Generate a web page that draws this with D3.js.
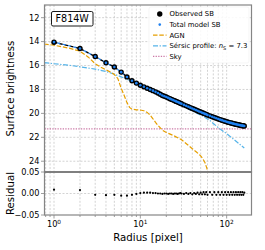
<!DOCTYPE html>
<html><head><meta charset="utf-8">
<script src="https://cdn.jsdelivr.net/npm/d3@7"></script>
<style>body{margin:0;background:#fff}svg{display:block;font-family:"DejaVu Sans",sans-serif}</style>
</head><body><svg id="c" width="265" height="250"></svg>
<script>
// ---- data ----
const radius = [1,2,3,4,5,6,7,8,9,10,11,12,13,14,15,16,17,18,19,20,21,22,23,24,25,26,27,28,29,30,
  32,34,36,38,40,42,44,46,48,50,52,54,56,58,60,
  64,68,72,76,80,84,88,92,96,100,104,108,112,116,120,124,128,132,136,140,144,148,152,156,160];
const observedSB = [14.05,14.58,15.25,15.77,16.12,16.55,16.95,17.27,17.47,17.65,17.78,17.9,18.0,18.1,18.2,18.3,18.4,18.5,18.57,18.63,18.7,18.77,18.83,18.89,18.95,19.0,19.05,19.1,19.15,19.2,
  19.29,19.37,19.45,19.52,19.59,19.66,19.72,19.78,19.84,19.89,19.94,19.99,20.04,20.08,20.13,
  20.21,20.28,20.35,20.41,20.47,20.52,20.57,20.62,20.66,20.7,20.74,20.77,20.8,20.83,20.86,20.89,20.91,20.93,20.95,20.97,20.99,21.01,21.03,21.04,21.06];
const residual = [0.009,0.008,-0.003,-0.004,-0.003,-0.005,-0.005,-0.003,-0.001,0.001,0.002,0.002,0.002,0.001,0.001,0.0,0.0,-0.001,0.0,0.0,-0.001,0.0,0.0,-0.001,0.0,0.0,-0.001,0.0,0.001,0.0,
  -0.001,0.001,-0.001,0.001,-0.002,0.001,-0.001,0.002,-0.002,0.002,-0.002,0.003,-0.002,0.003,-0.003,
  0.003,-0.003,0.003,-0.003,0.003,-0.003,0.003,-0.003,0.003,-0.003,0.003,-0.003,0.003,-0.003,0.003,-0.003,0.003,-0.003,0.003,-0.003,0.003,-0.003,0.003,-0.003,0.002];
const agnR  = [0.77,1,1.5,2,2.5,3,3.5,4,4.5,5,5.5,6,6.5,7,7.5,8,9,10,11,12,13,14,15,16,18,20,25,30,35,40,45,50,53,56,59,62];
const agnSB = [14.2,14.3,14.55,14.8,15.3,15.85,16.15,16.35,16.55,16.75,17.1,17.9,18.5,19.1,19.5,19.65,19.7,19.72,19.78,19.92,20.15,20.45,20.75,21.0,21.4,21.6,21.9,22.2,22.6,22.95,23.25,23.55,23.8,24.1,24.6,25.1];
const sersicR  = [0.77,1,1.5,2,3,4,5,6,7,8,10,13,16,20,25,30,38,45,54,64,73,84,100,120,140,160];
const sersicSB = [15.75,15.85,15.98,16.1,16.3,16.5,16.72,16.95,17.15,17.33,17.68,18.05,18.35,18.72,19.05,19.35,19.72,19.98,20.25,20.6,20.95,21.3,21.7,22.15,22.55,22.9];
const skySB = 21.3;
const sbTicks = [12,14,16,18,20,22,24];
const resTicks = [0.05,0.0,-0.05];
const xMajor = [1,10,100];
const legendLabels = ["Observed SB","Total model SB","AGN","Sérsic profile: ","Sky"];
const filterLabel = "F814W";

// ---- layout ----
const svg = d3.select("#c");
const L = 44.5, R = 251.5, T1 = 5, B1 = 172, T2 = 172, B2 = 215;
const x = d3.scaleLog().domain([0.776, 194]).range([L, R]);
const y = d3.scaleLinear().domain([10.94, 24.9]).range([T1, B1]);
const yr = d3.scaleLinear().domain([-0.05, 0.05]).range([B2, T2]);
const grid = "#c8c8c8", frame = "#858585";
const orange = "#E69F00", skyblue = "#56B4E9", pink = "#CC79A7", blue = "#1E80F0";

svg.append("defs").append("clipPath").attr("id","clip1").append("rect")
  .attr("x",L).attr("y",T1).attr("width",R-L).attr("height",B1-T1);

const xAll = [];
[0.1,1,10,100].forEach(d => { for (let k=1;k<10;k++){ const v=d*k; if (v>=0.776 && v<=194) xAll.push(v);} });

function vgrid(t,b){
  svg.append("g").selectAll("line").data(xAll).join("line")
    .attr("x1",d=>x(d)).attr("x2",d=>x(d)).attr("y1",t).attr("y2",b)
    .attr("stroke",grid).attr("stroke-width",0.8).attr("stroke-dasharray","2,1.6");
}
vgrid(T1,B1); vgrid(T2,B2);
svg.append("g").selectAll("line").data(sbTicks).join("line")
  .attr("x1",L).attr("x2",R).attr("y1",d=>y(d)).attr("y2",d=>y(d))
  .attr("stroke",grid).attr("stroke-width",0.8).attr("stroke-dasharray","2,1.6");
svg.append("line").attr("x1",L).attr("x2",R).attr("y1",yr(0)).attr("y2",yr(0))
  .attr("stroke",grid).attr("stroke-width",0.8).attr("stroke-dasharray","2,1.6");

// curves
const g1 = svg.append("g").attr("clip-path","url(#clip1)");
const line = d3.line().x(d=>x(d[0])).y(d=>y(d[1]));
g1.append("line").attr("x1",L).attr("x2",R).attr("y1",y(skySB)).attr("y2",y(skySB))
  .attr("stroke",pink).attr("stroke-width",1.2).attr("stroke-dasharray","1.3,1.3");
g1.append("path").attr("d",line(d3.zip(sersicR,sersicSB))).attr("fill","none")
  .attr("stroke",skyblue).attr("stroke-width",1.2).attr("stroke-dasharray","5,1.6,1.3,1.6");
g1.append("path").attr("d",line(d3.zip(agnR,agnSB))).attr("fill","none")
  .attr("stroke",orange).attr("stroke-width",1.2).attr("stroke-dasharray","4.5,1.8");
const modelSB = observedSB.map((v,i)=>v-residual[i]);
// connecting lines
g1.append("path").attr("d",line(d3.zip(radius,observedSB))).attr("fill","none")
  .attr("stroke","#000").attr("stroke-width",1.4).attr("stroke-dasharray","3.5,2");
g1.append("path").attr("d",line(d3.zip(radius,modelSB))).attr("fill","none")
  .attr("stroke",blue).attr("stroke-width",1.2).attr("stroke-dasharray","3,2.5").attr("stroke-dashoffset",-3.5);
// observed
g1.append("g").selectAll("circle").data(d3.zip(radius,observedSB)).join("circle")
  .attr("cx",d=>x(d[0])).attr("cy",d=>y(d[1])).attr("r",2.7).attr("fill","#000");
// model
g1.append("g").selectAll("circle").data(d3.zip(radius,modelSB)).join("circle")
  .attr("cx",d=>x(d[0])).attr("cy",d=>y(d[1])).attr("r",1.3).attr("fill",blue);

// residual points
svg.append("g").selectAll("circle").data(d3.zip(radius,residual)).join("circle")
  .attr("cx",d=>x(d[0])).attr("cy",d=>yr(d[1])).attr("r",1.1).attr("fill","#000");

// frames
svg.append("rect").attr("x",L).attr("y",T1).attr("width",R-L).attr("height",B1-T1)
  .attr("fill","none").attr("stroke",frame).attr("stroke-width",1.2);
svg.append("rect").attr("x",L).attr("y",T2).attr("width",R-L).attr("height",B2-T2)
  .attr("fill","none").attr("stroke",frame).attr("stroke-width",1.2);
svg.append("line").attr("x1",L).attr("x2",R).attr("y1",B1).attr("y2",B1).attr("stroke","#777").attr("stroke-width",1.6);

// y ticks
const fs = 8.2;
const yt = svg.append("g");
sbTicks.forEach(v=>{
  yt.append("line").attr("x1",L-3.5).attr("x2",L).attr("y1",y(v)).attr("y2",y(v)).attr("stroke",frame).attr("stroke-width",0.8);
  yt.append("text").attr("x",L-5).attr("y",y(v)).attr("dy","0.35em").attr("text-anchor","end").attr("font-size",fs).text(v);
});
resTicks.forEach(v=>{
  yt.append("line").attr("x1",L-3.5).attr("x2",L).attr("y1",yr(v)).attr("y2",yr(v)).attr("stroke",frame).attr("stroke-width",0.8);
  yt.append("text").attr("x",L-5).attr("y",yr(v)).attr("dy","0.35em").attr("text-anchor","end").attr("font-size",fs)
    .text(v<0 ? "\u2212"+d3.format(".2f")(-v) : d3.format(".2f")(v));
});
xAll.forEach(v=>{
  const major = xMajor.includes(v);
  svg.append("line").attr("x1",x(v)).attr("x2",x(v)).attr("y1",B2).attr("y2",B2+(major?3.5:2))
    .attr("stroke",frame).attr("stroke-width",0.8);
});
xMajor.forEach(v=>{
  const t = svg.append("text").attr("x",x(v)).attr("y",227).attr("text-anchor","middle").attr("font-size",fs);
  t.append("tspan").text("10");
  t.append("tspan").attr("dy",-3.5).attr("font-size",5.8).text(Math.round(Math.log10(v)));
});

svg.append("text").attr("transform",`translate(10,${(T1+B1)/2}) rotate(-90)`).attr("text-anchor","middle")
  .attr("dy","0.35em").attr("font-size",10.2).text("Surface brightness");
svg.append("text").attr("transform",`translate(10,${(T2+B2)/2}) rotate(-90)`).attr("text-anchor","middle")
  .attr("dy","0.35em").attr("font-size",10.2).text("Residual");
svg.append("text").attr("x",(L+R)/2).attr("y",241).attr("text-anchor","middle").attr("font-size",10.2).text("Radius [pixel]");

svg.append("rect").attr("x",51.5).attr("y",11.5).attr("width",41.5).attr("height",14.5).attr("rx",1.5)
  .attr("fill","#fff").attr("stroke","#000").attr("stroke-width",0.9);
svg.append("text").attr("x",72.2).attr("y",18.9).attr("dy","0.36em").attr("text-anchor","middle").attr("font-size",9.6).text(filterLabel);

const lg = svg.append("g");
lg.append("rect").attr("x",149).attr("y",7).attr("width",100).attr("height",56).attr("rx",2)
  .attr("fill","#fff").attr("fill-opacity",0.85).attr("stroke","#f0f0f0").attr("stroke-width",0.6);
const ly = [14,24.6,35.2,45.8,56.4], hx1 = 153, hx2 = 166.5, tx = 169.5, lfs = 6.9;
lg.append("circle").attr("cx",(hx1+hx2)/2).attr("cy",ly[0]).attr("r",2.7).attr("fill","#000");
lg.append("circle").attr("cx",(hx1+hx2)/2).attr("cy",ly[1]).attr("r",1.3).attr("fill",blue);
lg.append("line").attr("x1",hx1).attr("x2",hx2).attr("y1",ly[2]).attr("y2",ly[2]).attr("stroke",orange).attr("stroke-width",1.2).attr("stroke-dasharray","4.5,1.8");
lg.append("line").attr("x1",hx1).attr("x2",hx2).attr("y1",ly[3]).attr("y2",ly[3]).attr("stroke",skyblue).attr("stroke-width",1.2).attr("stroke-dasharray","5,1.6,1.3,1.6");
lg.append("line").attr("x1",hx1).attr("x2",hx2).attr("y1",ly[4]).attr("y2",ly[4]).attr("stroke",pink).attr("stroke-width",1.2).attr("stroke-dasharray","1.3,1.3");
legendLabels.forEach((s,i)=>{
  const t = lg.append("text").attr("x",tx).attr("y",ly[i]).attr("dy","0.35em").attr("font-size",lfs).text(s);
  if (i===3){
    t.append("tspan").attr("font-style","italic").text("n");
    t.append("tspan").attr("dy",1.5).attr("font-size",5).text("S");
    t.append("tspan").attr("dy",-1.5).text(" = 7.3");
  }
});
</script></body></html>
